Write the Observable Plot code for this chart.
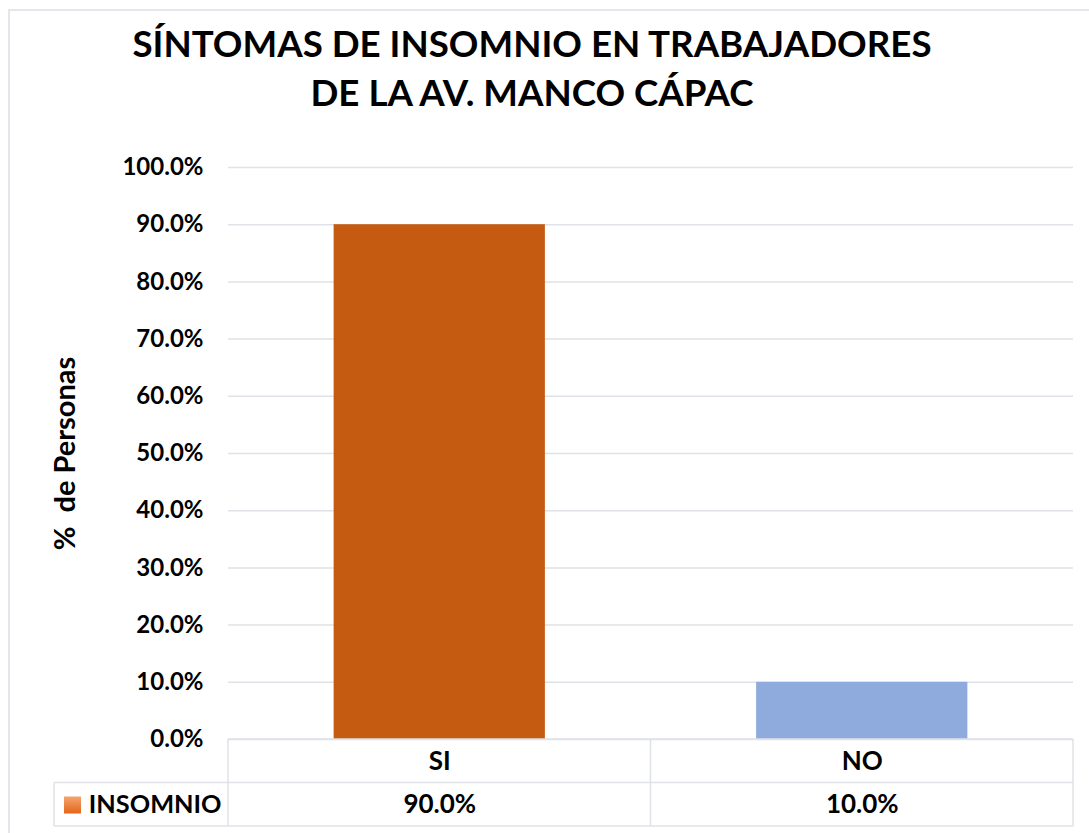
<!DOCTYPE html>
<html>
<head>
<meta charset="utf-8">
<script src="https://cdn.jsdelivr.net/npm/d3@7"></script>
<script src="https://cdn.jsdelivr.net/npm/@observablehq/plot@0.6"></script>
<style>
  html, body { margin: 0; padding: 0; background: #fff; }
  #wrap { position: relative; width: 1089px; height: 833px; overflow: hidden; background: #fff; font-family: Lato, "Open Sans", sans-serif; }
  #border { position: absolute; left: 8px; top: 9px; width: 1200px; height: 1000px; border: 2px solid #e3e6ea; box-sizing: border-box; }
  #title { position: absolute; left: 0; top: 19px; width: 1064px; text-align: center; font-weight: 700; font-size: 36.7px; line-height: 49px; color: #000; }
  #chart { position: absolute; left: 0; top: 140px; }
  .ylab text { white-space: pre; }
</style>
</head>
<body>
<div id="wrap">
  <div id="border"></div>
  <div id="title">SÍNTOMAS DE INSOMNIO EN TRABAJADORES<br>DE LA AV. MANCO CÁPAC</div>
  <div id="chart"></div>
</div>
<script>
// ---- data ----
const categories = ["SI", "NO"];
const values = [0.90, 0.10];
const barColors = ["#C55A11", "#8FAADC"];
const yTicks = [0, 0.1, 0.2, 0.3, 0.4, 0.5, 0.6, 0.7, 0.8, 0.9, 1.0];
const seriesName = "INSOMNIO";
const yLabel = "%  de Personas";

const data = categories.map((c, i) => ({category: c, value: values[i]}));
const pct = d3.format(".1%");

const font = "Lato, 'Open Sans', sans-serif";
const gridColor = "#dfe2e7";

const plot = Plot.plot({
  width: 1089,
  height: 693,
  marginTop: 27,
  marginBottom: 94,
  marginLeft: 228,
  marginRight: 16,
  style: {fontFamily: font, color: "#000", background: "transparent", overflow: "visible"},
  x: {domain: categories, paddingInner: 0.5, paddingOuter: 0.25, round: false, axis: null},
  y: {domain: [0, 1], axis: null},
  color: {domain: categories, range: barColors},
  marks: [
    Plot.gridY(yTicks, {stroke: gridColor, strokeOpacity: 1, strokeWidth: 1.5}),
    Plot.axisY(yTicks, {tickSize: 0, tickPadding: 25, tickFormat: pct, fontSize: 24, fontWeight: 700, label: null, fill: "#000"}),
    Plot.text([yLabel], {frameAnchor: "left", textAnchor: "middle", lineAnchor: "middle", rotate: -90, dx: -163, fontSize: 29, fontWeight: 700, fill: "#000", className: "ylab"}),
    Plot.barY(data, {x: "category", y: "value", fill: "category"}),
    // data table texts
    Plot.text(data, {x: "category", text: "category", frameAnchor: "bottom", lineAnchor: "middle", dy: 22, fontSize: 26, fontWeight: 700, fill: "#000"}),
    Plot.text(data, {x: "category", text: d => pct(d.value), frameAnchor: "bottom", lineAnchor: "middle", dy: 65, fontSize: 26, fontWeight: 700, fill: "#000"}),
    Plot.text([seriesName], {frameAnchor: "bottom-left", textAnchor: "end", lineAnchor: "middle", dx: -7, dy: 65, fontSize: 25.3, fontWeight: 700, fill: "#000"}),
    Plot.dot([seriesName], {frameAnchor: "bottom-left", dx: -156, dy: 65.5, symbol: "square", r: 9.6, fill: "url(#swatchGrad)", stroke: "none"})
  ]
});

document.getElementById("chart").appendChild(plot);

// gradient for the legend swatch
const svg = d3.select(plot);
const defs = svg.insert("defs", ":first-child");
const grad = defs.append("linearGradient").attr("id", "swatchGrad").attr("x1", 0).attr("y1", 0).attr("x2", 0).attr("y2", 1);
grad.append("stop").attr("offset", "0%").attr("stop-color", "#F4A46E");
grad.append("stop").attr("offset", "100%").attr("stop-color", "#E4661A");

// data table grid lines, positioned from the plot's own scales
const xs = plot.scale("x");
const ys = plot.scale("y");
const step = xs.step, bw = xs.bandwidth;
const cellLeft = categories.map(c => xs.apply(c) - (step - bw) / 2);
const tableLeft = cellLeft[0];
const tableRight = cellLeft[cellLeft.length - 1] + step;
const yTop = ys.apply(0);
const rowH = 43.5;
const legendLeft = tableLeft - 174;
const g = svg.append("g").attr("stroke", gridColor).attr("stroke-width", 1.5).attr("fill", "none");
g.append("line").attr("x1", tableLeft).attr("x2", tableRight).attr("y1", yTop).attr("y2", yTop);
g.append("line").attr("x1", legendLeft).attr("x2", tableRight).attr("y1", yTop + rowH).attr("y2", yTop + rowH);
g.append("line").attr("x1", legendLeft).attr("x2", tableRight).attr("y1", yTop + 2 * rowH).attr("y2", yTop + 2 * rowH);
[...cellLeft, tableRight].forEach(x => {
  g.append("line").attr("x1", x).attr("x2", x).attr("y1", yTop).attr("y2", yTop + 2 * rowH);
});
g.append("line").attr("x1", legendLeft).attr("x2", legendLeft).attr("y1", yTop + rowH).attr("y2", yTop + 2 * rowH);
</script>
</body>
</html>
